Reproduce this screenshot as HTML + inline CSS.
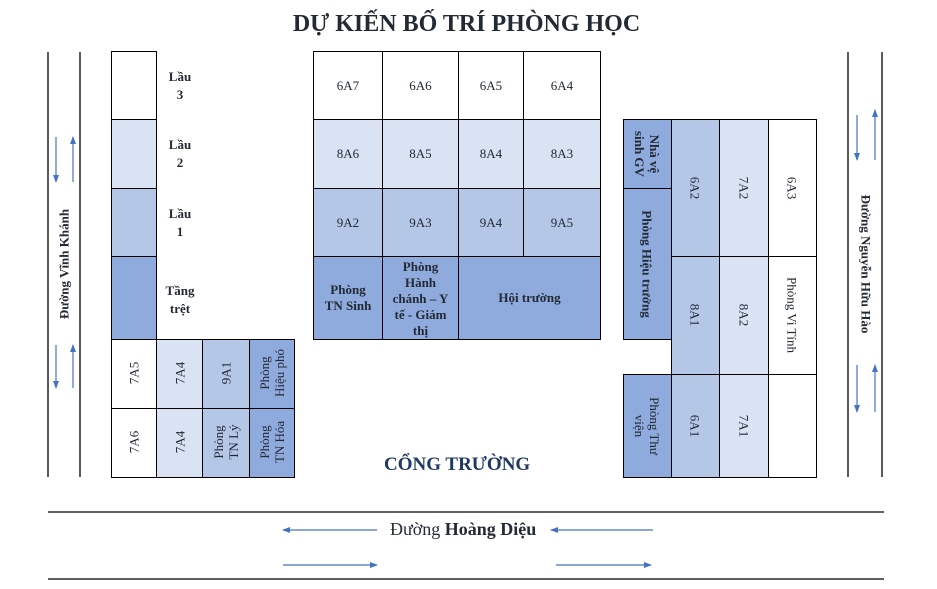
<!DOCTYPE html>
<html><head><meta charset="utf-8">
<style>
body{margin:0;width:937px;height:589px;background:#fff;position:relative;overflow:hidden;font-family:"Liberation Serif",serif;color:#222a35}
.b{position:absolute;box-sizing:border-box;border:1.5px solid #000;display:flex;align-items:center;justify-content:center;text-align:center;font-size:13px;line-height:16px}
.w{background:#fff}.l{background:#dae3f3}.m{background:#b4c7e7}.d{background:#8faadc}
.bold{font-weight:bold}
.r{position:absolute;white-space:nowrap;font-size:13px;line-height:15px;text-align:center}
.t{position:absolute;font-weight:bold;font-size:13px;line-height:18px;text-align:center}
</style></head><body>
<div style="position:absolute;left:0;top:11px;width:937px;text-align:center;font-size:24px;font-weight:bold"><span style="position:relative;left:-2px">DỰ KIẾN BỐ TRÍ PHÒNG HỌC</span></div>

<svg width="937" height="589" style="position:absolute;left:0;top:0">
<defs><marker id="a" markerWidth="8" markerHeight="8" refX="7" refY="4" orient="auto" markerUnits="userSpaceOnUse"><path d="M0,1 L8,4 L0,7 Z" fill="#4472c4"/></marker></defs>
<g stroke="#000" stroke-width="1.3">
<line x1="48" y1="52" x2="48" y2="477"/><line x1="80" y1="52" x2="80" y2="477"/>
<line x1="848" y1="52" x2="848" y2="477"/><line x1="882" y1="52" x2="882" y2="477"/>
<line x1="48" y1="512" x2="884" y2="512"/><line x1="48" y1="579" x2="884" y2="579"/>
</g>
<g stroke="#4472c4" stroke-width="1.2" marker-end="url(#a)">
<line x1="56" y1="137" x2="56" y2="182"/><line x1="73" y1="182" x2="73" y2="137"/>
<line x1="56" y1="345" x2="56" y2="388"/><line x1="73" y1="388" x2="73" y2="345"/>
<line x1="857" y1="115" x2="857" y2="160"/><line x1="875" y1="160" x2="875" y2="110"/>
<line x1="857" y1="365" x2="857" y2="412"/><line x1="875" y1="412" x2="875" y2="365"/>
<line x1="377" y1="530" x2="283" y2="530"/><line x1="653" y1="530" x2="551" y2="530"/>
<line x1="283" y1="565" x2="377" y2="565"/><line x1="556" y1="565" x2="651" y2="565"/>
</g>
</svg>

<div class="b w" style="left:111px;top:51px;width:46px;height:69px"></div>
<div class="b l" style="left:111px;top:119px;width:46px;height:70px"></div>
<div class="b m" style="left:111px;top:188px;width:46px;height:69px"></div>
<div class="b d" style="left:111px;top:256px;width:46px;height:84px"></div>
<div class="t" style="left:160px;top:68px;width:40px">Lầu<br>3</div>
<div class="t" style="left:160px;top:136px;width:40px">Lầu<br>2</div>
<div class="t" style="left:160px;top:205px;width:40px">Lầu<br>1</div>
<div class="t" style="left:160px;top:282px;width:40px">Tầng<br>trệt</div>

<div class="b w" style="left:111px;top:339px;width:46px;height:70px"></div>
<div class="b l" style="left:156px;top:339px;width:47px;height:70px"></div>
<div class="b m" style="left:202px;top:339px;width:48px;height:70px"></div>
<div class="b d" style="left:249px;top:339px;width:46px;height:70px"></div>
<div class="b w" style="left:111px;top:408px;width:46px;height:70px"></div>
<div class="b l" style="left:156px;top:408px;width:47px;height:70px"></div>
<div class="b m" style="left:202px;top:408px;width:48px;height:70px"></div>
<div class="b d" style="left:249px;top:408px;width:46px;height:70px"></div>
<div class="r" style="left:134px;top:373px;transform:translate(-50%,-50%) rotate(-90deg)">7A5</div>
<div class="r" style="left:180px;top:373px;transform:translate(-50%,-50%) rotate(-90deg)">7A4</div>
<div class="r" style="left:226px;top:373px;transform:translate(-50%,-50%) rotate(-90deg)">9A1</div>
<div class="r" style="left:272px;top:373px;transform:translate(-50%,-50%) rotate(-90deg)">Phòng<br>Hiệu phó</div>
<div class="r" style="left:134px;top:442px;transform:translate(-50%,-50%) rotate(-90deg)">7A6</div>
<div class="r" style="left:180px;top:442px;transform:translate(-50%,-50%) rotate(-90deg)">7A4</div>
<div class="r" style="left:226px;top:442px;transform:translate(-50%,-50%) rotate(-90deg)">Phòng<br>TN Lý</div>
<div class="r" style="left:272px;top:442px;transform:translate(-50%,-50%) rotate(-90deg)">Phòng<br>TN Hóa</div>

<div class="r bold" style="left:64px;top:264px;transform:translate(-50%,-50%) rotate(-90deg)">Đường Vĩnh Khánh</div>
<div class="r bold" style="left:866px;top:264px;transform:translate(-50%,-50%) rotate(90deg)">Đường Nguyễn Hữu Hào</div>

<div class="b w" style="left:313px;top:51px;width:70px;height:69px">6A7</div>
<div class="b w" style="left:382px;top:51px;width:77px;height:69px">6A6</div>
<div class="b w" style="left:458px;top:51px;width:66px;height:69px">6A5</div>
<div class="b w" style="left:523px;top:51px;width:78px;height:69px">6A4</div>
<div class="b l" style="left:313px;top:119px;width:70px;height:70px">8A6</div>
<div class="b l" style="left:382px;top:119px;width:77px;height:70px">8A5</div>
<div class="b l" style="left:458px;top:119px;width:66px;height:70px">8A4</div>
<div class="b l" style="left:523px;top:119px;width:78px;height:70px">8A3</div>
<div class="b m" style="left:313px;top:188px;width:70px;height:69px">9A2</div>
<div class="b m" style="left:382px;top:188px;width:77px;height:69px">9A3</div>
<div class="b m" style="left:458px;top:188px;width:66px;height:69px">9A4</div>
<div class="b m" style="left:523px;top:188px;width:78px;height:69px">9A5</div>
<div class="b d bold" style="left:313px;top:256px;width:70px;height:84px">Phòng<br>TN Sinh</div>
<div class="b d bold" style="left:382px;top:256px;width:77px;height:84px;overflow:hidden;align-items:flex-start;padding-top:2px">Phòng<br>Hành<br>chánh – Y<br>tế - Giám<br>thị</div>
<div class="b d bold" style="left:458px;top:256px;width:143px;height:84px">Hội trường</div>

<div style="position:absolute;left:384px;top:454px;font-size:19px;font-weight:bold;color:#1f3864;white-space:nowrap">CỔNG TRƯỜNG</div>
<div style="position:absolute;left:390px;top:519px;font-size:18px;white-space:nowrap">Đường <b>Hoàng Diệu</b></div>

<div class="b d" style="left:623px;top:119px;width:49px;height:70px"></div>
<div class="b d" style="left:623px;top:188px;width:49px;height:152px"></div>
<div class="b d" style="left:623px;top:374px;width:49px;height:104px"></div>
<div class="b m" style="left:671px;top:119px;width:49px;height:138px"></div>
<div class="b m" style="left:671px;top:256px;width:49px;height:119px"></div>
<div class="b m" style="left:671px;top:374px;width:49px;height:104px"></div>
<div class="b l" style="left:719px;top:119px;width:50px;height:138px"></div>
<div class="b l" style="left:719px;top:256px;width:50px;height:119px"></div>
<div class="b l" style="left:719px;top:374px;width:50px;height:104px"></div>
<div class="b w" style="left:768px;top:119px;width:49px;height:138px"></div>
<div class="b w" style="left:768px;top:256px;width:49px;height:119px"></div>
<div class="b w" style="left:768px;top:374px;width:49px;height:104px"></div>
<div class="r bold" style="left:647px;top:154px;transform:translate(-50%,-50%) rotate(90deg)">Nhà vệ<br>sinh GV</div>
<div class="r bold" style="left:647px;top:264px;transform:translate(-50%,-50%) rotate(90deg)">Phòng Hiệu trưởng</div>
<div class="r" style="left:647px;top:426px;transform:translate(-50%,-50%) rotate(90deg)">Phòng Thư<br>viện</div>
<div class="r" style="left:695px;top:188px;transform:translate(-50%,-50%) rotate(90deg)">6A2</div>
<div class="r" style="left:744px;top:188px;transform:translate(-50%,-50%) rotate(90deg)">7A2</div>
<div class="r" style="left:792px;top:188px;transform:translate(-50%,-50%) rotate(90deg)">6A3</div>
<div class="r" style="left:695px;top:315px;transform:translate(-50%,-50%) rotate(90deg)">8A1</div>
<div class="r" style="left:744px;top:315px;transform:translate(-50%,-50%) rotate(90deg)">8A2</div>
<div class="r" style="left:792px;top:315px;transform:translate(-50%,-50%) rotate(90deg)">Phòng Vi Tính</div>
<div class="r" style="left:695px;top:426px;transform:translate(-50%,-50%) rotate(90deg)">6A1</div>
<div class="r" style="left:744px;top:426px;transform:translate(-50%,-50%) rotate(90deg)">7A1</div>
</body></html>
